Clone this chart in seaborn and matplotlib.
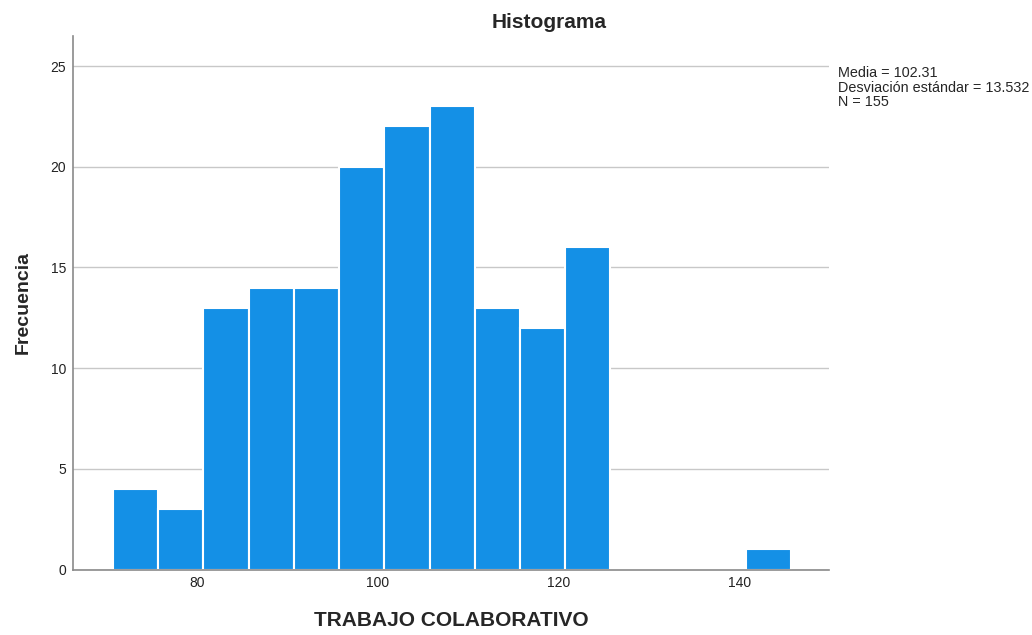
import pandas as pd
import seaborn as sns
import matplotlib.pyplot as plt

# bin centres and counts per bin
bin_start = 70.7
bin_end = 145.7
bin_width = 5
centros = [73.2, 78.2, 83.2, 88.2, 93.2, 98.2, 103.2, 108.2, 113.2, 118.2, 123.2, 143.2]
frecuencias = [4, 3, 13, 14, 14, 20, 22, 23, 13, 12, 16, 1]
y_ticks = [0, 5, 10, 15, 20, 25]
x_ticks = [80, 100, 120, 140]
stats_text = "Media = 102.31\nDesviación estándar = 13.532\nN = 155"

df = pd.DataFrame({"valor": centros, "n": frecuencias})

sns.set_style("white")
plt.rcParams['font.family'] = ['Liberation Sans', 'DejaVu Sans']

fig = plt.figure(figsize=(10.32, 6.35), dpi=100)
ax = fig.add_axes([0.071, 0.1031, 0.7326, 0.8405])

ax.yaxis.grid(True, color='#c8c8c8', linewidth=1)
ax.set_axisbelow(True)
sns.histplot(data=df, x="valor", weights="n", binwidth=bin_width,
             binrange=(bin_start, bin_end), color='#1490e6',
             alpha=1, edgecolor='white', linewidth=1.5, ax=ax)

ax.set_xlim(66.3, 149.9)
ax.set_ylim(0, 26.5)
ax.set_xticks(x_ticks)
ax.set_yticks(y_ticks)
ax.tick_params(axis='both', length=0, labelsize=10, colors='#222222', pad=5)
for s in ['top', 'right']:
    ax.spines[s].set_visible(False)
for s in ['left', 'bottom']:
    ax.spines[s].set_color('#8a8a8a')
    ax.spines[s].set_linewidth(1.2)

ax.set_xlabel("TRABAJO COLABORATIVO", fontsize=15, fontweight='bold', labelpad=15)
ax.set_ylabel("Frecuencia", fontsize=14, fontweight='bold', labelpad=14)
fig.text(549 / 1032, 1 - 22 / 635, "Histograma", fontsize=15, fontweight='bold',
         ha='center', va='center')
fig.text(838 / 1032, 1 - 66 / 635, stats_text, fontsize=10.4, ha='left', va='top',
         linespacing=1.05)

plt.savefig("out.png", dpi=100)
